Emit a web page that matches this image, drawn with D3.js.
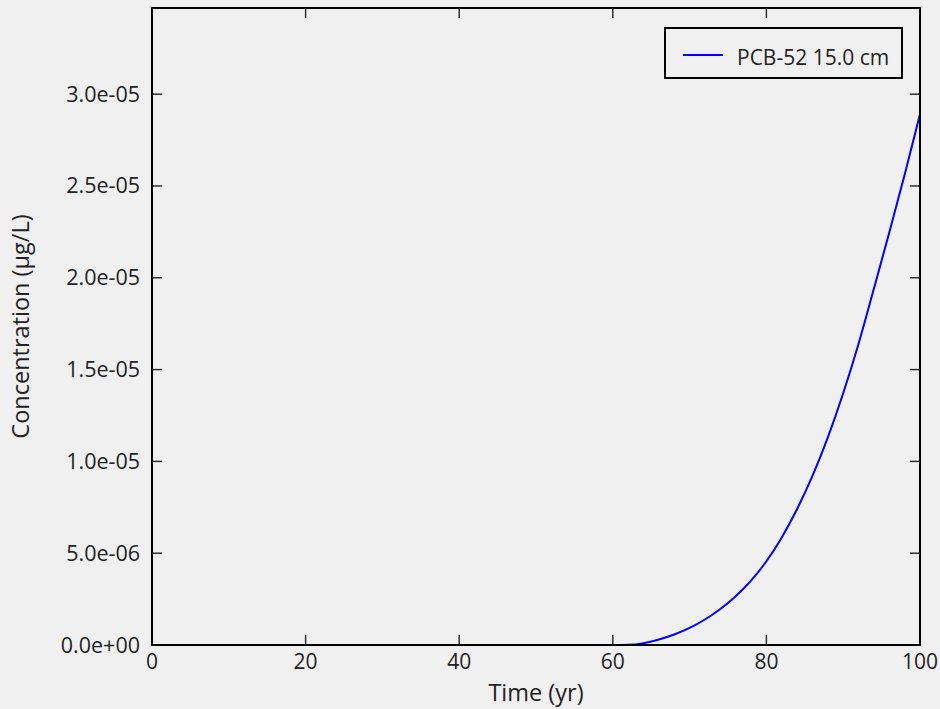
<!DOCTYPE html>
<html>
<head>
<meta charset="utf-8">
<script src="https://cdn.jsdelivr.net/npm/d3@7"></script>
<style>
  html, body { margin: 0; padding: 0; background: #f0f0f0; }
  svg { display: block; }
  text { font-family: "Open Sans", "Noto Sans", sans-serif; fill: #222; }
</style>
</head>
<body>
<svg id="chart" width="940" height="709"></svg>
<script>
// Simulated concentration of PCB-52 at 15.0 cm depth over time
const years = [0, 10, 20, 30, 40, 50, 58, 60, 62, 64, 66, 68, 70, 72, 74, 76, 78, 80,
               82, 84, 86, 88, 90, 92, 94, 96, 98, 100];
const concentration = [0, 0, 0, 0, 0, 0, 0, 0, 0.01e-6, 0.1e-6, 0.3e-6, 0.57e-6, 0.93e-6,
                       1.39e-6, 1.96e-6, 2.66e-6, 3.51e-6, 4.56e-6, 5.86e-6, 7.41e-6, 9.21e-6,
                       11.31e-6, 13.71e-6, 16.41e-6, 19.41e-6, 22.46e-6, 25.61e-6, 28.91e-6];
const xTicks = [0, 20, 40, 60, 80, 100];
const yTicks = [0, 5e-6, 1e-5, 1.5e-5, 2e-5, 2.5e-5, 3e-5];
const seriesLabel = "PCB-52 15.0 cm";
const xLabel = "Time (yr)";
const yLabel = "Concentration (\u00b5g/L)";

const svg = d3.select("#chart");
const margin = { left: 152, right: 20, top: 8, bottom: 64 };
const W = 940, H = 709;
const x0 = margin.left, x1 = W - margin.right;
const y0 = H - margin.bottom, y1 = margin.top;

const x = d3.scaleLinear().domain([0, 100]).range([x0, x1]);
const yMax = d3.max(concentration) * 1.2;
const y = d3.scaleLinear().domain([0, yMax]).range([y0, y1]);

const fmtY = v => {
  const s = v.toExponential(1);
  const m = s.match(/^(-?[\d.]+)e([+-])(\d+)$/);
  return m[1] + "e" + m[2] + m[3].padStart(2, "0");
};

const tickLen = 10;
const g = svg.append("g");

// Inward ticks on all four sides
const tickStyle = sel => sel.attr("stroke", "#222").attr("stroke-width", 1.4);
yTicks.forEach(v => {
  g.append("line").attr("x1", x0).attr("x2", x0 + tickLen).attr("y1", y(v)).attr("y2", y(v)).call(tickStyle);
  g.append("line").attr("x1", x1).attr("x2", x1 - tickLen).attr("y1", y(v)).attr("y2", y(v)).call(tickStyle);
  g.append("text").attr("x", x0 - 12).attr("y", y(v)).attr("dy", "0.35em")
    .attr("text-anchor", "end").attr("font-size", 21.5).text(fmtY(v));
});
xTicks.forEach(v => {
  g.append("line").attr("x1", x(v)).attr("x2", x(v)).attr("y1", y0).attr("y2", y0 - tickLen).call(tickStyle);
  g.append("line").attr("x1", x(v)).attr("x2", x(v)).attr("y1", y1).attr("y2", y1 + tickLen).call(tickStyle);
  g.append("text").attr("x", x(v)).attr("y", y0 + 24)
    .attr("text-anchor", "middle").attr("font-size", 21).text(String(v));
});

// Data line
const line = d3.line().x((d, i) => x(years[i])).y(d => y(d)).curve(d3.curveMonotoneX);
g.append("path").datum(concentration)
  .attr("d", line).attr("fill", "none").attr("stroke", "#0000ff").attr("stroke-width", 2);

// Frame
g.append("rect").attr("x", x0).attr("y", y1).attr("width", x1 - x0).attr("height", y0 - y1)
  .attr("fill", "none").attr("stroke", "#000").attr("stroke-width", 2);

// Axis titles
g.append("text").attr("x", (x0 + x1) / 2).attr("y", 701)
  .attr("text-anchor", "middle").attr("font-size", 23.5).text(xLabel);
g.append("text").attr("transform", `translate(29,${(y0 + y1) / 2}) rotate(-90)`)
  .attr("text-anchor", "middle").attr("font-size", 23.5).text(yLabel);

// Legend
const lg = g.append("g").attr("transform", "translate(665,28)");
lg.append("rect").attr("width", 237).attr("height", 50)
  .attr("fill", "#f0f0f0").attr("stroke", "#000").attr("stroke-width", 2);
lg.append("line").attr("x1", 18).attr("x2", 58).attr("y1", 27).attr("y2", 27)
  .attr("stroke", "#0000ff").attr("stroke-width", 2);
lg.append("text").attr("x", 72).attr("y", 37)
  .attr("font-size", 21).text(seriesLabel);
</script>
</body>
</html>
